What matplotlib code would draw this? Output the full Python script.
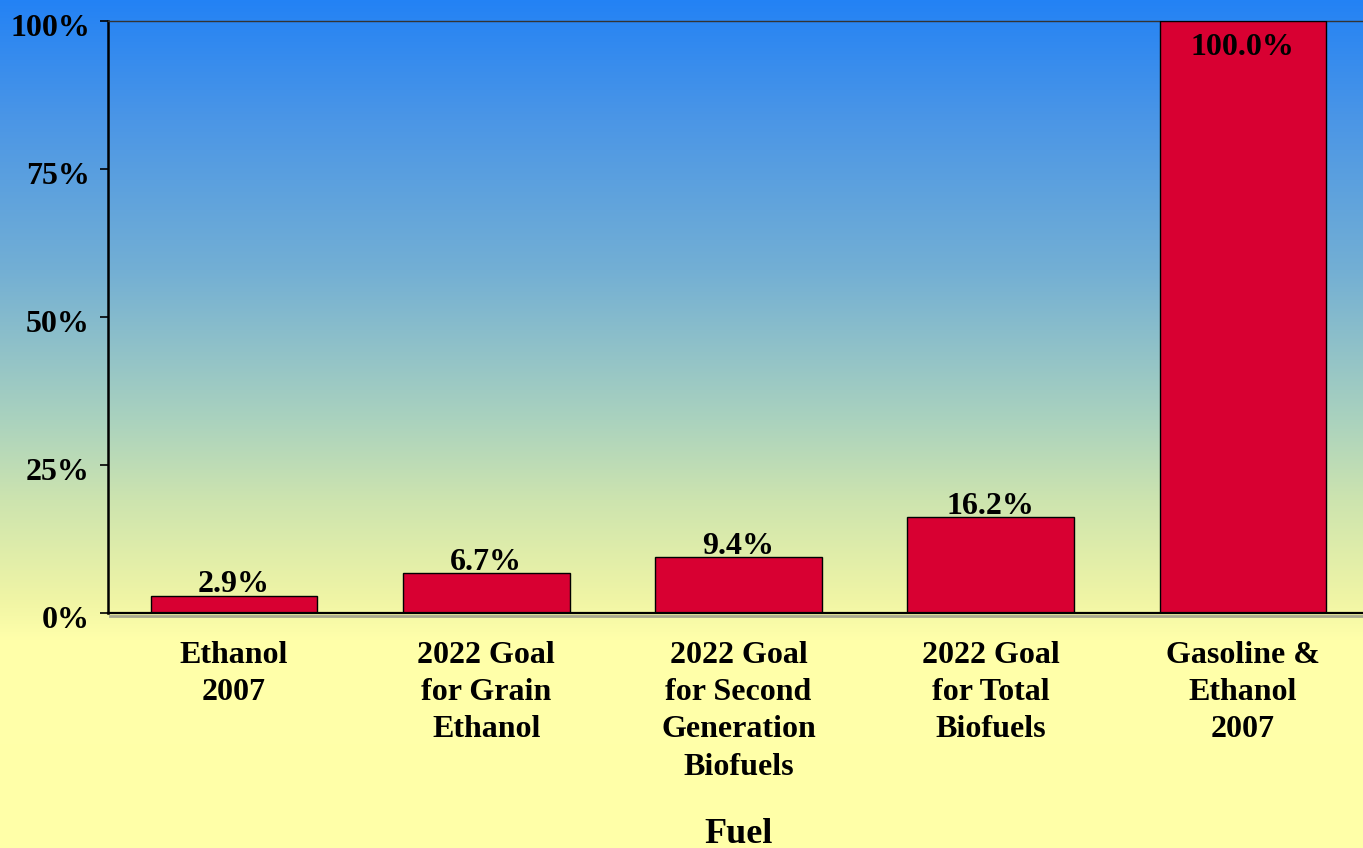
import numpy as np
import matplotlib.pyplot as plt
import matplotlib.transforms as mtransforms

categories = ['Ethanol\n2007', '2022 Goal\nfor Grain\nEthanol', '2022 Goal\nfor Second\nGeneration\nBiofuels',
              '2022 Goal\nfor Total\nBiofuels', 'Gasoline &\nEthanol\n2007']
shares = [2.9, 6.7, 9.4, 16.2, 100.0]
yticks = [0, 25, 50, 75, 100]
ytick_labels = ['0%', '25%', '50%', '75%', '100%']

plt.rcParams['font.family'] = ['Liberation Serif', 'DejaVu Serif']
plt.rcParams['font.weight'] = 'bold'

W, H = 1363, 848
fig = plt.figure(figsize=(W / 100, H / 100), dpi=100)

# background: blue at the top fading to pale yellow at the bottom
stops_y = np.array([0, 120, 270, 420, 500, 600, 640, 848]) / H
stops_c = np.array([(35, 130, 245), (75, 150, 230), (115, 175, 212), (170, 210, 190),
                    (205, 228, 175), (240, 245, 165), (255, 255, 170), (255, 255, 168)]) / 255
yy = np.linspace(0, 1, H)
grad = np.stack([np.interp(yy, stops_y, stops_c[:, i]) for i in range(3)], axis=-1)
bg = fig.add_axes([0, 0, 1, 1], zorder=-10)
bg.imshow(grad[:, None, :], aspect='auto', extent=[0, 1, 1, 0])
bg.axis('off')

left, right, top, bottom = 108, 1369, 21, 613
ax = fig.add_axes([left / W, (H - bottom) / H, (right - left) / W, (bottom - top) / H])
ax.patch.set_alpha(0)

x = np.arange(len(categories))
ax.bar(x, shares, width=0.66, color='#D80032', edgecolor='black', linewidth=1.0, zorder=3)

for xi, v in zip(x, shares):
    if v >= 100:
        ax.text(xi, v - 2.0, f'{v:.1f}%', ha='center', va='top', fontsize=23, fontweight='bold', zorder=4)
    else:
        ax.text(xi, v - 0.6, f'{v:.1f}%', ha='center', va='bottom', fontsize=23, fontweight='bold', zorder=4)

ax.set_xlim(-0.5, len(categories) - 0.5)
ax.set_ylim(0, 100)
ax.set_yticks(yticks)
ax.set_yticklabels(ytick_labels, fontsize=23, fontweight='bold')
ax.tick_params(axis='y', direction='out', length=6, width=1.2, pad=7)
shift = mtransforms.ScaledTranslation(0, -3 / 72, fig.dpi_scale_trans)
for lbl in ax.get_yticklabels():
    lbl.set_transform(lbl.get_transform() + shift)
ax.set_xticks(x)
ax.set_xticklabels(categories, fontsize=23, fontweight='bold', linespacing=1.38, va='top')
ax.tick_params(axis='x', length=0, pad=20)
ax.set_xlabel('Fuel', fontsize=26, fontweight='bold', labelpad=26)

ax.spines['right'].set_visible(False)
ax.spines['top'].set_color('#333333')
ax.spines['top'].set_linewidth(1.0)
ax.spines['left'].set_linewidth(1.8)
ax.spines['bottom'].set_linewidth(1.6)
ax.spines['bottom'].set_zorder(5)

# soft gray shadow under the baseline
shadow = mtransforms.offset_copy(ax.transData, fig=fig, x=1.5, y=-2.0, units='points')
ax.plot([-0.5, len(categories) - 0.5], [0, 0], color='#a8a890', linewidth=2.0,
        transform=shadow, clip_on=False, zorder=2)

fig.savefig('out.png', dpi=100)
